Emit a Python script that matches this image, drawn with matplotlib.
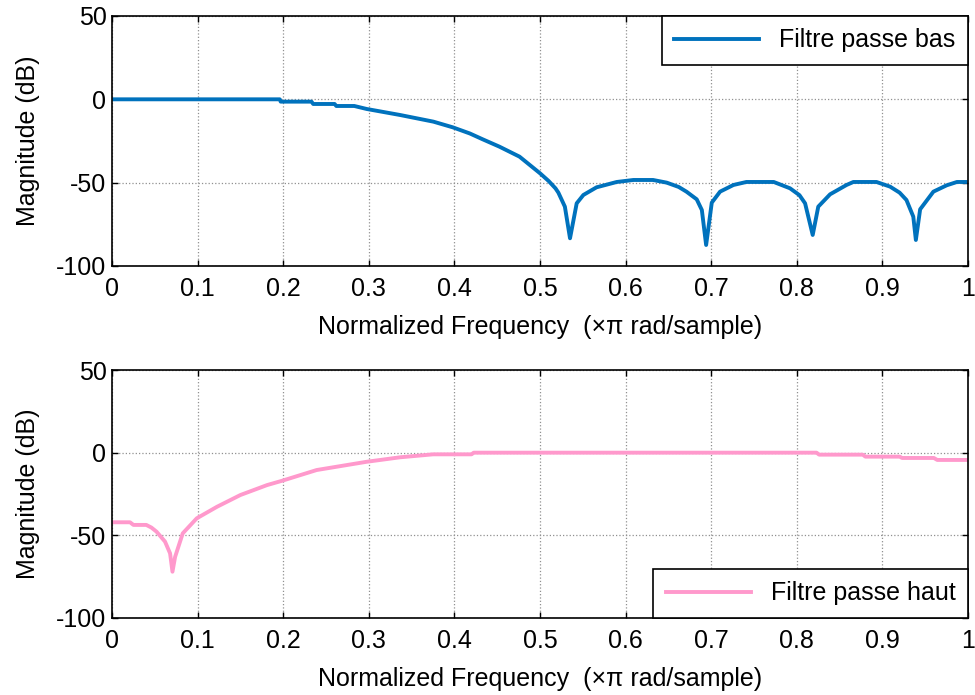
import numpy as np
import matplotlib
matplotlib.use('Agg')
import matplotlib.pyplot as plt

plt.rcParams['font.family'] = ['Liberation Sans', 'DejaVu Sans']
plt.rcParams['axes.unicode_minus'] = False

# filtre passe bas
f_bas = [0.0, 0.196, 0.197, 0.233, 0.235, 0.26, 0.262, 0.283, 0.2975, 0.3364, 0.3754,
         0.398, 0.418, 0.433, 0.4525, 0.476, 0.488, 0.5, 0.51, 0.518, 0.5214, 0.529, 0.535,
         0.5428, 0.5506, 0.566, 0.5896, 0.609, 0.632, 0.648, 0.662, 0.671, 0.683, 0.689,
         0.694, 0.7006, 0.7103, 0.7259, 0.741, 0.773, 0.792, 0.803, 0.8096, 0.8185, 0.825,
         0.8388, 0.858, 0.866, 0.893, 0.9089, 0.92, 0.928, 0.936, 0.939, 0.944, 0.9595,
         0.975, 0.987, 0.997]
db_bas = [0.0, 0.0, -1.4, -1.4, -2.8, -2.8, -4.0, -4.0, -5.8, -9.4, -13.4,
          -16.8, -20.5, -24.0, -28.4, -34.4, -39.4, -44.4, -49.0, -53.4, -56.0, -64.4, -83.4,
          -62.4, -57.4, -52.8, -49.6, -48.4, -48.4, -50.0, -52.6, -55.4, -60.0, -66.4,
          -87.4, -62.0, -55.4, -51.4, -49.6, -49.6, -53.4, -57.5, -62.4, -81.4, -64.4,
          -57.0, -51.4, -49.6, -49.6, -52.4, -56.0, -60.4, -70.4, -84.4, -66.0, -55.4,
          -51.6, -49.6, -49.6]

# filtre passe haut
f_haut = [0.0, 0.021, 0.025, 0.04, 0.046, 0.052, 0.0619, 0.0678, 0.0706, 0.0737, 0.0826, 0.099,
          0.1227, 0.15, 0.1811, 0.1986, 0.239, 0.2975, 0.3364, 0.375, 0.42, 0.4225,
          0.823, 0.826, 0.877, 0.88, 0.92, 0.923, 0.96, 0.964, 0.997]
db_haut = [-42.1, -42.1, -43.7, -43.7, -45.3, -47.8, -53.8, -60.9, -72.0, -63.0, -48.8, -39.7,
           -32.7, -25.6, -19.6, -17.0, -10.5, -5.5, -2.8, -1.0, -1.0, 0.0,
           0.0, -1.2, -1.2, -2.4, -2.4, -3.2, -3.2, -4.4, -4.4]

xticks = [0, 0.1, 0.2, 0.3, 0.4, 0.5, 0.6, 0.7, 0.8, 0.9, 1]
xticklabels = ['0', '0.1', '0.2', '0.3', '0.4', '0.5', '0.6', '0.7', '0.8', '0.9', '1']
yticks = [-100, -50, 0, 50]

fs = 18
fig = plt.figure(figsize=(9.75, 6.95), dpi=100)
ax1 = fig.add_axes([0.1149, 0.6173, 0.878, 0.3597])
ax2 = fig.add_axes([0.1149, 0.1108, 0.878, 0.3568])

for ax, f, db, col, lab, loc in [(ax1, f_bas, db_bas, '#0072bd', 'Filtre passe bas', 'upper right'),
                                 (ax2, f_haut, db_haut, '#ff99cc', 'Filtre passe haut', 'lower right')]:
    ax.plot(f, db, color=col, lw=2.8, label=lab)
    ax.set_xlim(0, 1)
    ax.set_ylim(-100, 50)
    ax.set_xticks(xticks)
    ax.set_xticklabels(xticklabels)
    ax.set_yticks(yticks)
    ax.grid(True, ls=':', color='#909090', lw=0.9)
    ax.tick_params(direction='in', top=True, right=True, length=4, width=1,
                   labelsize=fs)
    ax.tick_params(axis='x', pad=8)
    ax.tick_params(axis='y', pad=4)
    for s in ax.spines.values():
        s.set_linewidth(1.2)
    ax.set_xlabel('Normalized Frequency  (\u00d7\u03c0 rad/sample)', fontsize=fs, labelpad=10)
    ax.set_ylabel('Magnitude (dB)', fontsize=fs, labelpad=12)
    leg = ax.legend(loc=loc, fontsize=fs, fancybox=False, framealpha=1, edgecolor='black',
                    borderaxespad=0, handlelength=3.4, borderpad=0.5, handletextpad=0.8)
    leg.get_frame().set_linewidth(1.2)

fig.savefig('out.png', dpi=100)
